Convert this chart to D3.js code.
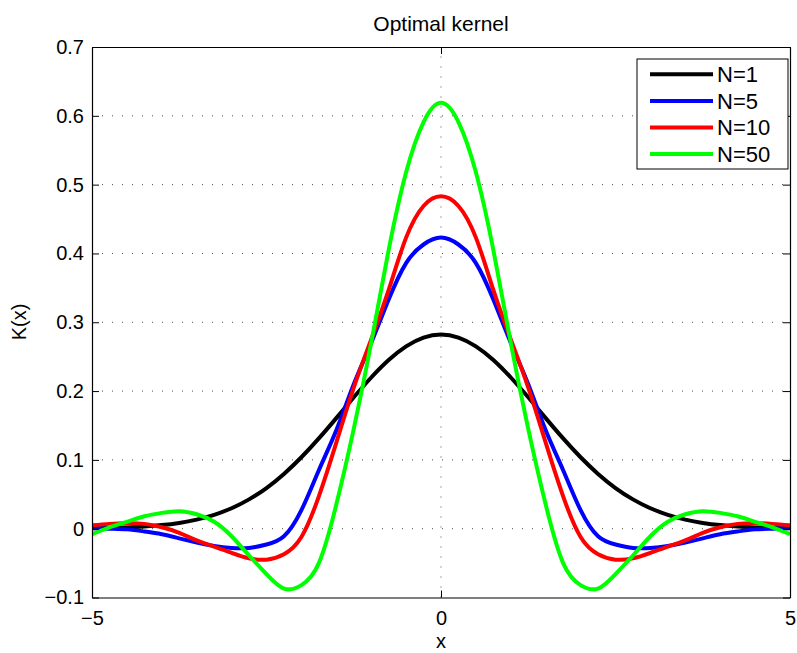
<!DOCTYPE html>
<html><head><meta charset="utf-8">
<script src="https://cdn.jsdelivr.net/npm/d3@7"></script>
<style>
body{margin:0;background:#fff;}
text{font-family:"Liberation Sans",Arial,Helvetica,sans-serif;fill:#000;}
</style></head>
<body><svg id="chart" width="797" height="653"></svg>
<script>
const xVals = [-5,-4.75,-4.5,-4.25,-4,-3.75,-3.5,-3.25,-3,-2.75,-2.5,-2.25,-2,-1.75,-1.5,-1.25,-1,-0.75,-0.5,-0.25,0,
  0.25,0.5,0.75,1,1.25,1.5,1.75,2,2.25,2.5,2.75,3,3.25,3.5,3.75,4,4.25,4.5,4.75,5];
const kN1 = [.0005,.0010,.0018,.0031,.0052,.0084,.0132,.0201,.0297,.0426,.0591,.0796,.1038,.1312,.1607,.1909,.2197,.2451,.2650,.2777,.2821,
  .2777,.2650,.2451,.2197,.1909,.1607,.1312,.1038,.0796,.0591,.0426,.0297,.0201,.0132,.0084,.0052,.0031,.0018,.0010,.0005];
const kN5 = [.001,.000,-.001,-.004,-.008,-.014,-.020,-.025,-.028,-.028,-.023,-.011,.027,.085,.143,.210,.270,.333,.386,.413,.423,
  .413,.386,.333,.270,.210,.143,.085,.027,-.011,-.023,-.028,-.028,-.025,-.020,-.014,-.008,-.004,-.001,.000,.001];
const kN10 = [.005,.007,.008,.007,.002,-.006,-.017,-.026,-.035,-.043,-.045,-.037,-.012,.047,.125,.205,.275,.347,.423,.469,.483,
  .469,.423,.347,.275,.205,.125,.047,-.012,-.037,-.045,-.043,-.035,-.026,-.017,-.006,.002,.007,.008,.007,.005];
const kN50 = [-.008,.002,.010,.018,.023,.0255,.021,.010,-.011,-.039,-.066,-.087,-.082,-.050,.035,.145,.270,.405,.518,.591,.619,
  .591,.518,.405,.270,.145,.035,-.050,-.082,-.087,-.066,-.039,-.011,.010,.021,.0255,.023,.018,.010,.002,-.008];
const seriesNames = ["N=1","N=5","N=10","N=50"];
const seriesColors = ["#000000","#0000ff","#ff0000","#00ff00"];
const xTicks = [-5,0,5];
const yTicks = [-0.1,0,0.1,0.2,0.3,0.4,0.5,0.6,0.7];

const svg = d3.select("#chart");
const L=92, R=790, T=47, B=597.5;
const x = d3.scaleLinear().domain([-5,5]).range([L,R]);
const y = d3.scaleLinear().domain([-0.1,0.7]).range([B,T]);

// grid
const g = svg.append("g");
g.selectAll(".gy").data(yTicks.slice(1,-1)).enter().append("line")
  .attr("x1",L).attr("x2",R).attr("y1",d=>y(d)).attr("y2",d=>y(d))
  .attr("stroke","#000").attr("stroke-width",1).attr("stroke-dasharray","1,9").attr("opacity",0.7);
g.selectAll(".gx").data(xTicks.slice(1,-1)).enter().append("line")
  .attr("y1",B).attr("y2",T).attr("x1",d=>x(d)).attr("x2",d=>x(d))
  .attr("stroke","#000").attr("stroke-width",1).attr("stroke-dasharray","1,9").attr("opacity",0.7);

// curves
const series = [kN1,kN5,kN10,kN50];
const line = d3.line().x((d,i)=>x(xVals[i])).y(d=>y(d)).curve(d3.curveNatural);
svg.append("clipPath").attr("id","clip").append("rect")
  .attr("x",L).attr("y",T).attr("width",R-L).attr("height",B-T);
series.forEach((s,k)=>{
  svg.append("path").datum(s).attr("d",line).attr("fill","none")
    .attr("stroke",seriesColors[k]).attr("stroke-width",4).attr("stroke-linejoin","round")
    .attr("clip-path","url(#clip)");
});

// axes (ticks inside, MATLAB style)
const fs = 20;
const axL = d3.axisLeft(y).tickValues(yTicks).tickSizeInner(-7).tickSizeOuter(0).tickPadding(8)
  .tickFormat(d=>d===0?"0":d3.format(".1f")(d).replace("-","\u2212"));
const axR = d3.axisRight(y).tickValues(yTicks).tickSizeInner(-7).tickSizeOuter(0).tickFormat("");
const axB = d3.axisBottom(x).tickValues(xTicks).tickSizeInner(-7).tickSizeOuter(0).tickPadding(13)
  .tickFormat(d=>String(d).replace("-","\u2212"));
const axT = d3.axisTop(x).tickValues(xTicks).tickSizeInner(-7).tickSizeOuter(0).tickFormat("");
[[axL,`translate(${L},0)`],[axR,`translate(${R},0)`],[axB,`translate(0,${B})`],[axT,`translate(0,${T})`]].forEach(([a,t])=>{
  const ga = svg.append("g").attr("transform",t).call(a);
  ga.selectAll("path.domain").attr("stroke","#000").attr("stroke-width",1.2);
  ga.selectAll("line").attr("stroke","#000").attr("stroke-width",1);
  ga.selectAll("text").attr("font-size",fs).attr("font-family","Liberation Sans, Arial, sans-serif").attr("fill","#000");
});

// titles
svg.append("text").attr("x",441).attr("y",31).attr("text-anchor","middle").attr("font-size",21).text("Optimal kernel");
svg.append("text").attr("x",441).attr("y",648).attr("text-anchor","middle").attr("font-size",20).text("x");
svg.append("text").attr("transform","translate(26,322) rotate(-90)").attr("text-anchor","middle").attr("font-size",20).text("K(x)");

// legend
const lg = svg.append("g");
lg.append("rect").attr("x",637).attr("y",59).attr("width",151).attr("height",110)
  .attr("fill","#fff").attr("stroke","#000").attr("stroke-width",1);
seriesNames.forEach((n,i)=>{
  const yy = 74.3 + i*26.6;
  lg.append("line").attr("x1",650).attr("x2",713).attr("y1",yy).attr("y2",yy)
    .attr("stroke",seriesColors[i]).attr("stroke-width",4);
  lg.append("text").attr("x",717).attr("y",yy).attr("dy","0.35em").attr("font-size",22).text(n);
});
</script></body></html>
